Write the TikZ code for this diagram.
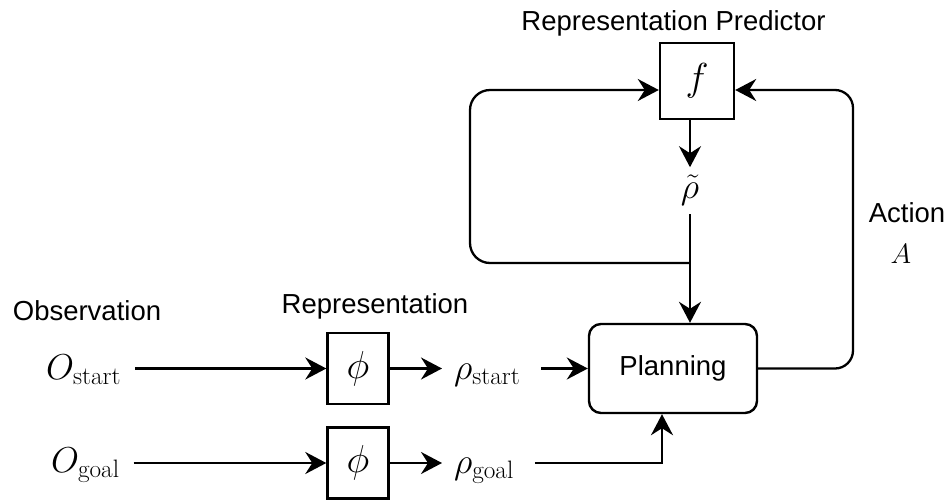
\RequirePackage{fix-cm}
\documentclass[tikz,border=0pt]{standalone}
\usepackage{fontspec}
\setsansfont{Liberation Sans}
\usetikzlibrary{arrows.meta}
\newcommand{\lblfont}{\sffamily\fontsize{27.5}{33}\selectfont}
\newcommand{\mfont}{\fontsize{36}{43}\selectfont}
\newcommand{\bfontm}{\fontsize{39}{46}\selectfont}
\newcommand{\afont}{\fontsize{28}{34}\selectfont}
\begin{document}
\begin{tikzpicture}[x=1pt,y=-1pt,
  line width=2.3pt,
  arr/.style={-{Stealth[length=21pt,width=22pt,inset=7pt]}},
  box/.style={draw,line width=2.4pt,inner sep=0pt,font=\bfontm},
  lbl/.style={font=\lblfont,anchor=base,inner sep=0pt},
  mth/.style={font=\mfont,inner sep=0pt}]
\useasboundingbox (0,0) rectangle (948,499);

% boxes
\node[box, minimum width=74pt, minimum height=76pt] (f) at (697,81) {$f$};
\node[mth] (rt) at (690,190) {$\tilde\rho$};
\coordinate (J) at (690,263);
\node[box, rounded corners=12pt, minimum width=168pt, minimum height=89pt, font=\lblfont] (plan) at (673,368.5) {Planning};
\node[box, minimum width=61pt, minimum height=71pt] (phi1) at (358,368.5) {$\phi$};
\node[box, minimum width=61pt, minimum height=71pt] (phi2) at (358,463) {$\phi$};

% math labels
\node[mth, anchor=base west] (os) at (45,379) {$O_{\mathrm{start}}$};
\node[mth, anchor=base west] (og) at (50,472) {$O_{\mathrm{goal}}$};
\node[mth, anchor=base west] (rs) at (453,379) {$\rho_{\mathrm{start}}$};
\node[mth, anchor=base west] (rg) at (453,473) {$\rho_{\mathrm{goal}}$};

% text labels
\node[lbl] (obs) at (87,320) {Observation};
\node[lbl] (rep) at (375,313) {Representation};
\node[lbl] (rpl) at (673.5,30) {Representation Predictor};
\node[lbl] (act) at (907,222) {Action};
\node[font=\afont, inner sep=0pt, anchor=base] (A) at (901,263) {$A$};

% entry points on f
\coordinate (fin1) at ([yshift=-9pt]f.west);
\coordinate (fin2) at ([yshift=-9pt]f.east);
\coordinate (pg) at ([xshift=-11pt]plan.south);

% connectors
\draw[arr, shorten <=13pt] (os.east |- phi1.west) -- (phi1.west);
\draw[arr, shorten <=13pt] (og.east |- phi2.west) -- (phi2.west);
\draw[arr, shorten >=11pt] (phi1.east) -- (rs.west |- phi1.east);
\draw[arr, shorten >=11pt] (phi2.east) -- (rg.west |- phi2.east);
\draw[arr, shorten <=20pt] (rs.east |- plan.west) -- (plan.west);
\draw[arr, shorten <=20pt] (rg.east |- phi2.east) -| (pg);
\draw[arr] (f.south -| rt) -- ++(0,47);
\draw[arr, shorten <=8pt] (rt.south) -- (J) -- (J |- plan.north);
\draw[arr, rounded corners=20pt] (J) -- (470,263) -- (470,90) -- (fin1);
\draw[arr, rounded corners=18pt] (plan.east) -- (853,368.5) -- (853,90) -- (fin2);
\end{tikzpicture}
\end{document}
